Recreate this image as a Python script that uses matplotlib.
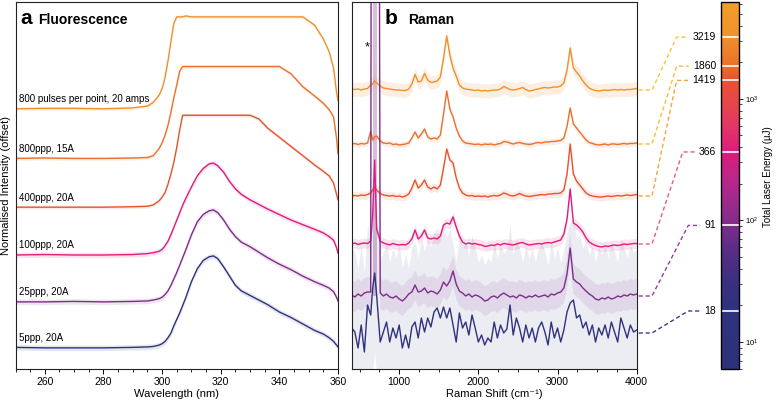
import numpy as np
import matplotlib
matplotlib.use("Agg")
import matplotlib.pyplot as plt
from matplotlib.colors import LinearSegmentedColormap, LogNorm
from matplotlib.lines import Line2D
from matplotlib.ticker import MultipleLocator

plt.rcParams['font.family'] = ['Liberation Sans', 'DejaVu Sans']

# total laser energy (uJ) of each acquisition, low -> high
energy = [18, 91, 366, 1419, 1860, 3219]

# ---- fluorescence (normalised, offset) ----
fl_labels = ['5ppp, 20A', '25ppp, 20A', '100ppp, 20A', '400ppp, 20A',
             '800ppp, 15A', '800 pulses per point, 20 amps']
fl_offset = [0, 0.5, 1.01, 1.53, 2.06, 2.60]
fl_spread = [0.03, 0.03, 0.03, 0.02, 0.02, 0.02]

wavelength = [250, 260, 270, 280, 290, 295, 297, 299, 300, 301,
              302, 303, 304, 305, 306, 307, 308, 310, 312, 314,
              316, 317.5, 319, 321, 323, 325, 327, 330, 333, 336,
              340, 344, 348, 352, 355, 357, 358.5, 359.5, 360]

fl_5ppp = [0.005, 0.0, 0.0, 0.0, 0.005, 0.01, 0.015, 0.03, 0.045, 0.07,
           0.11, 0.16, 0.24, 0.31, 0.38, 0.46, 0.54, 0.72, 0.86, 0.95,
           0.99, 1.0, 0.97, 0.88, 0.78, 0.68, 0.62, 0.57, 0.52, 0.47,
           0.39, 0.33, 0.26, 0.19, 0.15, 0.11, 0.07, 0.03, 0.01]
fl_25ppp = [0.0, 0.0, 0.005, 0.0, 0.005, 0.01, 0.02, 0.035, 0.05, 0.08,
            0.12, 0.18, 0.25, 0.32, 0.40, 0.48, 0.56, 0.73, 0.87, 0.95,
            0.99, 1.0, 0.97, 0.89, 0.79, 0.71, 0.65, 0.60, 0.54, 0.48,
            0.41, 0.35, 0.28, 0.22, 0.18, 0.15, 0.11, 0.05, 0.01]
fl_100ppp = [0.0, 0.005, 0.0, 0.0, 0.005, 0.015, 0.025, 0.04, 0.06, 0.10,
             0.15, 0.22, 0.30, 0.38, 0.46, 0.54, 0.61, 0.74, 0.86, 0.94,
             0.99, 1.0, 0.97, 0.90, 0.80, 0.72, 0.66, 0.60, 0.55, 0.50,
             0.44, 0.38, 0.33, 0.28, 0.24, 0.20, 0.16, 0.08, 0.02]
fl_400ppp = [0.0, 0.0, 0.0, 0.0, 0.005, 0.01, 0.025, 0.07, 0.11, 0.16,
             0.25, 0.36, 0.49, 0.65, 0.84, 1.0, 1.0, 1.0, 1.0, 1.0,
             1.0, 1.0, 1.0, 1.0, 1.0, 1.0, 1.0, 1.0, 0.96, 0.86,
             0.76, 0.66, 0.56, 0.46, 0.39, 0.34, 0.26, 0.14, 0.08]
fl_800ppp_15A = [0.0, 0.005, 0.0, 0.0, 0.005, 0.01, 0.03, 0.11, 0.17, 0.25,
                 0.36, 0.50, 0.66, 0.80, 0.95, 1.0, 1.0, 1.0, 1.0, 1.0,
                 1.0, 1.0, 1.0, 1.0, 1.0, 1.0, 1.0, 1.0, 1.0, 1.0,
                 1.0, 0.92, 0.78, 0.68, 0.60, 0.53, 0.45, 0.22, 0.05]
fl_800ppp_20A = [0.0, 0.005, 0.005, 0.0, 0.01, 0.03, 0.07, 0.15, 0.22, 0.34,
                 0.52, 0.73, 0.93, 1.0, 1.0, 1.0, 1.01, 1.0, 1.0, 1.0,
                 1.0, 1.0, 1.0, 1.0, 1.0, 1.0, 1.0, 1.0, 1.0, 1.0,
                 1.0, 1.0, 1.0, 0.91, 0.76, 0.62, 0.44, 0.18, 0.09]
fl_spectra = [fl_5ppp, fl_25ppp, fl_100ppp, fl_400ppp, fl_800ppp_15A, fl_800ppp_20A]

# ---- Raman (a.u., offset) ----
raman_shift = [400, 440, 480, 520, 560, 600, 640, 665, 690, 715, 760,
               800, 840, 880, 920, 960, 1000, 1040, 1080, 1120, 1160,
               1200, 1240, 1280, 1320, 1360, 1400, 1440, 1480, 1520, 1560,
               1600, 1640, 1680, 1720, 1760, 1800, 1840, 1880, 1920, 1960,
               2000, 2040, 2080, 2120, 2160, 2200, 2240, 2280, 2320, 2360,
               2400, 2440, 2480, 2520, 2560, 2600, 2640, 2680, 2720, 2760,
               2800, 2840, 2880, 2920, 2960, 3000, 3040, 3080, 3120, 3160,
               3200, 3240, 3280, 3320, 3360, 3400, 3440, 3480, 3520, 3560,
               3600, 3640, 3680, 3720, 3760, 3800, 3840, 3880, 3920, 3960,
               4000]
raman_offset = [36, 73, 125, 173, 225, 279]
raman_spread = [80, 15, 5, 4, 3, 7]
raman_band_alpha = [0.09, 0.10, 0.12, 0.12, 0.12, 0.14]

raman_18 = [5, 1, -15, 8, -19, 28, 18, 45, 60, 38, -9,
            1, 11, -9, 5, -5, 8, -15, -2, -15, 6,
            11, -5, 15, 1, 15, 6, 21, 25, 15, 26,
            15, 25, 8, -9, 20, 5, 11, -2, 18, 5,
            -9, -2, -12, -5, -9, 11, -5, 8, 0, 4,
            28, -2, 15, 5, -9, 8, -5, 5, -9, 5,
            11, 1, -12, 11, -5, 5, -9, 3, 21, 30,
            33, 15, 18, 5, 11, -2, 8, -9, 5, -2,
            8, -5, 11, 1, -9, 15, 5, -5, 8, 1,
            3]
raman_91 = [1, -1, 2, 0, 3, 4, 4, 1500, 1500, 1500, 3,
            0, 2, -1, -2, 0, -3, -5, -2, 2, 4,
            11, 4, 5, 8, 3, 5, 4, 2, 6, 14,
            10, 15, 25, 12, 5, 3, 0, 2, -1, 1,
            0, -2, -5, -4, -1, 0, -2, 1, 3, 1,
            -1, 0, -2, 1, 0, -2, 0, -1, 1, -1,
            0, 1, -1, 2, 1, 3, 4, 8, 22, 48,
            17, 14, 12, 8, 5, 2, 0, -3, -4, -2,
            -3, -1, -3, -2, 0, -1, 1, 0, 2, 1,
            2]
raman_366 = [0, 1, -0.5, 0.5, 1, 0.5, 3, 30, 84, 15, 3,
             1, 0, -1, 0.5, -0.5, -1, -0.5, -1, 1, 5,
             14, 5, 8, 14, 6, 5, 6, 5, 8, 19,
             21, 20, 27, 17, 8, 2, 0, 1, 0, 0.5,
             -0.5, -1, -2.5, -2, -1, -1.5, 0, -1, 0.5, 0,
             -0.5, -1, 0, 1, 1.5, 0, -1, -0.5, 0, 0.5,
             0, 1, 1.5, 1, 2, 3, 4, 10, 25, 55,
             21, 19, 16, 12, 6, 2, 0, -1.5, -2.5, -3,
             -2, -2.5, -1.5, -1, -1.5, -1, 0, -0.5, 0, 0.5,
             0.5]
raman_1419 = [0, 0.5, 0, 1, 0.5, 1.5, 3, 6, 9, 6, 2.5,
              1, 0.5, 0, 0.5, -0.5, 0, -1, 0, 2, 8,
              16, 8, 11, 16, 9, 7, 9, 7, 11, 28,
              47, 36, 33, 18, 8, 3, 1, 0, 0.5, -0.5,
              0, -0.5, 0, -1, 0, 0.5, 0, 1, 3, 2,
              0.5, 0, 1, 2.5, 1, 0, -0.5, 0, 0.5, 1,
              1.5, 1, 2, 2, 2.5, 2.5, 3, 6, 22, 52,
              22, 15, 11, 7, 3, 1, 0, -0.5, -1, -1,
              -0.5, 0, -0.5, 0, 0.5, 0, 0.5, 1, 0.5, 1,
              1.5]
raman_1860 = [0, 0.5, -0.5, 0.5, 0, 1, 13, 4, 7, 8, 3,
              1, 0.5, 1, -0.5, 0, -1, -0.5, 0, 1, 6,
              12, 6, 10, 15, 7, 5, 6, 5, 9, 30,
              53, 35, 27, 16, 8, 3, 1, 0.5, 0, -0.5,
              0, -1, 0, -0.5, 0, -1, 0, 0.5, 2.5, 2,
              1, 0, 1, 1.5, 0.5, 0, -0.5, 0, 1, 1.5,
              1, 2, 2, 2.5, 2.5, 3, 3.5, 6, 18, 36,
              20, 16, 12, 8, 4, 1.5, 0.5, -0.5, -1, -0.5,
              0, -1, 0, 0, -0.5, 0, 0.5, 0, 0.5, 0.5,
              1]
raman_3219 = [1, 0.5, 1, 0, 1, 1.5, 5, 6, 9, 7, 4,
              2, 1.5, 1, 0.5, 0, 0, -0.5, -0.5, 1, 6,
              15.5, 8, 9, 16.5, 10, 7.5, 8, 9, 13, 32,
              54, 35, 22, 14, 5, 2, 1, 0.5, 0, -0.5,
              0, -1, -0.5, -1, -0.5, 0, 0, 1, 3.5, 2,
              0.5, 0, 0.5, 1.5, 2.5, 0.5, -1, -0.5, 0.5, 1,
              2, 2.5, 2, 2.5, 3, 3, 4, 7, 20, 42,
              22, 18, 14, 9, 5, 2, 0.5, -0.5, -1, -0.5,
              0, -0.5, 0, 0.5, 0, 0.5, 0, 0.5, 0.5, 1,
              1.5]
raman_spectra = [raman_18, raman_91, raman_366, raman_1419, raman_1860, raman_3219]

connector_colors = ['#3b3a8f', '#9b3aa6', '#e3607a', '#f3a43c', '#f5bf3a', '#f6c92f']

# colour scale for energy (log)
cmap = LinearSegmentedColormap.from_list('energy', [
    (0.0, '#2e327c'), (0.166, '#2f327d'), (0.234, '#3b2f80'), (0.325, '#592d86'),
    (0.403, '#852c8b'), (0.506, '#b5278b'), (0.595, '#de1c7e'), (0.66, '#e33568'),
    (0.733, '#e64846'), (0.79, '#e8532d'), (0.828, '#eb712b'), (0.914, '#ef942b'),
    (1.0, '#f09e2a')])
norm = LogNorm(vmin=6, vmax=6300)

W, H = 777, 404
fig = plt.figure(figsize=(W / 100, H / 100), dpi=100)


def box(l, t, r, b):
    return [l / W, 1 - b / H, (r - l) / W, (b - t) / H]


ax_a = fig.add_axes(box(15.5, 1.7, 338, 369))
ax_b = fig.add_axes(box(351.7, 1.7, 636.7, 369))
ax_c = fig.add_axes(box(720.7, 1.7, 739.3, 369))

# panel a
for i in range(len(energy)):
    col = cmap(norm(energy[i]))
    y = np.array(fl_spectra[i]) + fl_offset[i]
    ax_a.fill_between(wavelength, y - fl_spread[i], y + fl_spread[i],
                      color=col, alpha=0.12, lw=0)
    ax_a.plot(wavelength, y, color=col, lw=1.0)
    ax_a.text(251.1, fl_offset[i] + 0.05, fl_labels[i], fontsize=7,
              ha='left', va='bottom')

ax_a.set_xlim(250, 360)
ax_a.set_ylim(-0.23, 3.765)
ax_a.set_yticks([])
ax_a.xaxis.set_major_locator(MultipleLocator(20))
ax_a.xaxis.set_minor_locator(MultipleLocator(5))
ax_a.set_xlabel('Wavelength (nm)', fontsize=8, labelpad=2)
ax_a.set_ylabel('Normalised Intensity (offset)', fontsize=8, labelpad=3)
ax_a.text(0.016, 0.94, 'a', transform=ax_a.transAxes, fontsize=15,
          fontweight='bold', va='baseline')
ax_a.text(0.071, 0.94, 'Fluorescence', transform=ax_a.transAxes, fontsize=10,
          fontweight='bold', va='baseline')

# panel b
ytop = 367.3
for i in range(len(energy)):
    col = cmap(norm(energy[i]))
    y = np.array(raman_spectra[i]) + raman_offset[i]
    ax_b.fill_between(raman_shift, y - raman_spread[i], y + raman_spread[i],
                      color=col, alpha=raman_band_alpha[i], lw=0)
    # saturated (off-scale) region: shade the whole column above the trace
    sat = np.array(raman_spectra[i]) > ytop
    if sat.any():
        ax_b.fill_between(raman_shift, raman_offset[i], ytop, where=sat,
                          color=col, alpha=0.3, lw=0)
for i in reversed(range(len(energy))):
    col = cmap(norm(energy[i]))
    y = np.array(raman_spectra[i]) + raman_offset[i]
    ax_b.plot(raman_shift, y, color=col, lw=1.0)

ax_b.text(597, 322, '*', ha='center', va='center', fontsize=9)
ax_b.set_xlim(400, 4000)
ax_b.set_ylim(0, ytop)
ax_b.set_yticks([])
ax_b.xaxis.set_major_locator(MultipleLocator(1000))
ax_b.xaxis.set_minor_locator(MultipleLocator(250))
ax_b.set_xlabel('Raman Shift (cm⁻¹)', fontsize=8, labelpad=2)
ax_b.text(0.117, 0.94, 'b', transform=ax_b.transAxes, fontsize=15,
          fontweight='bold', va='baseline')
ax_b.text(0.199, 0.94, 'Raman', transform=ax_b.transAxes, fontsize=10,
          fontweight='bold', va='baseline')

for ax in (ax_a, ax_b):
    for s in ax.spines.values():
        s.set_linewidth(0.8)
        s.set_color('#222222')
    ax.tick_params(axis='x', which='major', length=3.5, width=0.7, labelsize=7.5, pad=2)
    ax.tick_params(axis='x', which='minor', length=2.5, width=0.6)

# colour bar
sm = plt.cm.ScalarMappable(norm=norm, cmap=cmap)
cb = fig.colorbar(sm, cax=ax_c)
cb.outline.set_linewidth(1.0)
for e in energy:
    ax_c.axhline(e, color='white', lw=1.2)
ax_c.tick_params(which='major', length=3, width=0.6, labelsize=5.5, pad=1)
ax_c.tick_params(which='minor', length=2.2, width=0.5)
fig.text(768 / W, 1 - 176.7 / H, 'Total Laser Energy (µJ)', rotation=90,
         ha='center', va='center', fontsize=7)

# dashed connectors: Raman trace -> energy on colour bar
fig.canvas.draw()
renderer = fig.canvas.get_renderer()
inv = fig.transFigure.inverted()
for i in range(len(energy)):
    x0, y0 = ax_b.transData.transform((raman_shift[-1], raman_offset[i]))
    y1 = ax_c.transData.transform((0, energy[i]))[1]
    t = fig.text(716 / W, y1 / H, str(energy[i]), ha='right', va='center',
                 fontsize=7.5)
    xl = t.get_window_extent(renderer).x0
    pts = inv.transform([(x0 + 2, y0), (652, y0), (xl - 16, y1), (xl - 4, y1)])
    fig.add_artist(Line2D(pts[:, 0], pts[:, 1], transform=fig.transFigure,
                          color=connector_colors[i], lw=1.0, ls=(0, (3, 2))))

fig.savefig('out.png', dpi=100)
